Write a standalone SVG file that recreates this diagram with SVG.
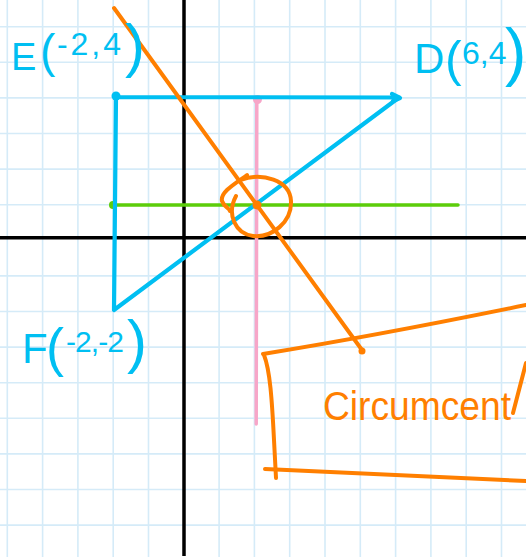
<svg xmlns="http://www.w3.org/2000/svg" width="526" height="557" viewBox="0 0 526 557">
<style>
.grid line{stroke:#d5ebf8;stroke-width:1.6}
.axis{stroke:#000;stroke-width:3.5;fill:none}
.blue{stroke:#00bff2;stroke-width:4.2;fill:none;stroke-linecap:round;stroke-linejoin:round}
.orange{stroke:#ff7f00;stroke-width:4;fill:none;stroke-linecap:round;stroke-linejoin:round}
.green{stroke:#5ccd0a;stroke-width:3.5;fill:none;stroke-linecap:round}
.pink{stroke:#f7a6c8;stroke-width:3.5;fill:none;stroke-linecap:round}
.lbl{font-family:"Liberation Sans","DejaVu Sans",sans-serif;fill:#00bff2}
.note{font-family:"Liberation Sans","DejaVu Sans",sans-serif;fill:#ff7f00}
</style>
<rect width="526" height="557" fill="#fff"/>
<g class="grid">
<line x1="7.3" y1="0" x2="7.3" y2="557"/><line x1="42.6" y1="0" x2="42.6" y2="557"/><line x1="77.9" y1="0" x2="77.9" y2="557"/><line x1="113.2" y1="0" x2="113.2" y2="557"/><line x1="148.5" y1="0" x2="148.5" y2="557"/><line x1="219.1" y1="0" x2="219.1" y2="557"/><line x1="254.4" y1="0" x2="254.4" y2="557"/><line x1="289.7" y1="0" x2="289.7" y2="557"/><line x1="325" y1="0" x2="325" y2="557"/><line x1="360.3" y1="0" x2="360.3" y2="557"/><line x1="395.6" y1="0" x2="395.6" y2="557"/><line x1="430.9" y1="0" x2="430.9" y2="557"/><line x1="466.2" y1="0" x2="466.2" y2="557"/><line x1="501.5" y1="0" x2="501.5" y2="557"/>
<line x1="0" y1="26.7" x2="526" y2="26.7"/><line x1="0" y1="62.3" x2="526" y2="62.3"/><line x1="0" y1="97.9" x2="526" y2="97.9"/><line x1="0" y1="133.5" x2="526" y2="133.5"/><line x1="0" y1="169.1" x2="526" y2="169.1"/><line x1="0" y1="204.7" x2="526" y2="204.7"/><line x1="0" y1="275.9" x2="526" y2="275.9"/><line x1="0" y1="311.5" x2="526" y2="311.5"/><line x1="0" y1="347.1" x2="526" y2="347.1"/><line x1="0" y1="382.7" x2="526" y2="382.7"/><line x1="0" y1="418.3" x2="526" y2="418.3"/><line x1="0" y1="453.9" x2="526" y2="453.9"/><line x1="0" y1="489.5" x2="526" y2="489.5"/><line x1="0" y1="525.1" x2="526" y2="525.1"/>
</g>
<g id="axes">
<line class="axis" x1="184" y1="0" x2="184" y2="556"/>
<line class="axis" x1="0" y1="237.7" x2="526" y2="237.7"/>
</g>
<g id="connectors">
<path class="pink" d="M256.8,99 L256.2,424"/>
<circle cx="257.5" cy="99.5" r="4.5" fill="#f7a6c8"/>
<path class="green" d="M113,205 L458,205"/>
<circle cx="113" cy="205" r="4" fill="#5ccd0a"/>
<path class="blue" d="M116,97 L399,97.5 L114,310 L116,97"/>
<path class="blue" d="M392,94 L400,98 L393,101"/>
<circle cx="116" cy="96" r="4.5" fill="#00bff2"/>
<path class="orange" d="M114,8 L362,350"/>
<circle cx="362" cy="351" r="3.5" fill="#ff7f00"/>
<circle cx="257" cy="205" r="4.5" fill="#ff7f00"/>
<path class="orange" d="M247,175 C236,183 220,192 222,201 C224,207 229,208 230,211 M240,180 C262,172 290,180 291,201 C292,222 272,238 253,236 C236,234 226,215 236,196"/>
</g>
<g id="box">
<path class="orange" d="M263,354 Q380,335 526,305"/>
<path class="orange" d="M264,355 C270,370 272,400 274,440 L276,478"/>
<path class="orange" d="M265,469 Q380,474 526,481"/>
<path class="orange" d="M526,363 L513,413"/>
<text class="note" x="323" y="420" font-size="40" textLength="188" lengthAdjust="spacingAndGlyphs">Circumcent</text>
</g>
<g id="E">
<text class="lbl"><tspan x="11" y="70" font-size="38">E</tspan><tspan x="40" y="67" font-size="46">(</tspan><tspan x="57" y="55" font-size="32" textLength="64">-2,4</tspan><tspan x="125" y="66" font-size="60">)</tspan></text>
</g>
<g id="D">
<text class="lbl"><tspan x="414" y="73" font-size="42">D</tspan><tspan x="445" y="76" font-size="50">(</tspan><tspan x="462" y="64" font-size="32">6,4</tspan><tspan x="505" y="74" font-size="64">)</tspan></text>
</g>
<g id="F">
<text class="lbl"><tspan x="22" y="363" font-size="42">F</tspan><tspan x="46" y="366" font-size="54">(</tspan><tspan x="66" y="352" font-size="30" textLength="58">-2,-2</tspan><tspan x="127" y="362" font-size="60">)</tspan></text>
</g>
</svg>
